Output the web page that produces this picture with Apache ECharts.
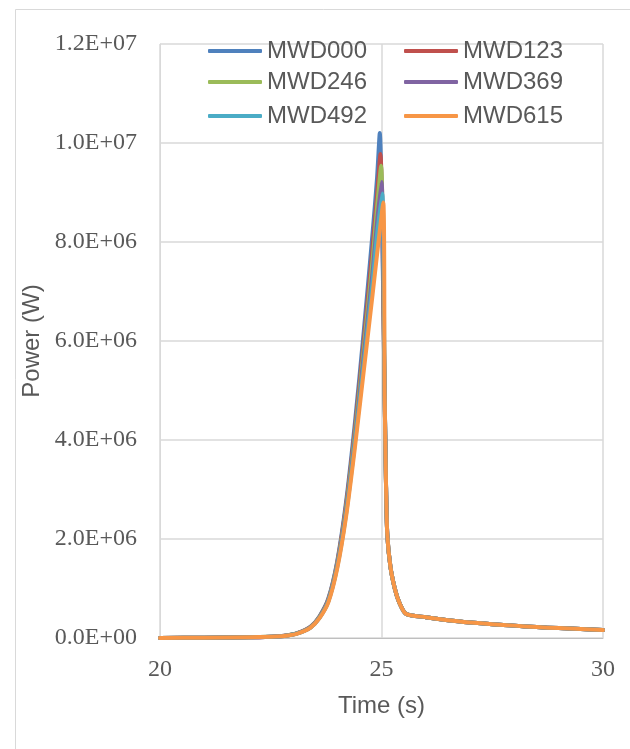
<!DOCTYPE html>
<html>
<head>
<meta charset="utf-8">
<script src="https://cdn.jsdelivr.net/npm/echarts@6/dist/echarts.min.js"></script>
<style>
  html, body { margin: 0; padding: 0; background: #fff; }
  #chart { width: 630px; height: 749px; }
</style>
</head>
<body>
<div id="chart"></div>
<script>
// series names + colours (Office theme)
const names = ['MWD000', 'MWD123', 'MWD246', 'MWD369', 'MWD492', 'MWD615'];
const colors = ['#4F81BD', '#C0504D', '#9BBB59', '#8064A2', '#4BACC6', '#F79646'];

// rising side, shared time grid (s) ; values in MW
const riseTime = [20, 21, 22, 22.5, 22.8, 23.1, 23.4, 23.6, 23.8, 24.0, 24.2, 24.4, 24.6, 24.8, 24.9];
const rise000 = [0.002, 0.005, 0.014, 0.027, 0.045, 0.10, 0.23, 0.44, 0.80, 1.55, 2.75, 4.35, 6.20, 8.20, 9.30];
const rise123 = [0.002, 0.005, 0.014, 0.027, 0.044, 0.098, 0.225, 0.43, 0.78, 1.52, 2.68, 4.22, 6.00, 7.90, 8.95];
const rise246 = [0.002, 0.005, 0.014, 0.026, 0.043, 0.096, 0.22, 0.42, 0.76, 1.49, 2.62, 4.12, 5.85, 7.65, 8.70];
const rise369 = [0.002, 0.005, 0.013, 0.026, 0.042, 0.094, 0.215, 0.41, 0.75, 1.46, 2.56, 4.02, 5.70, 7.40, 8.40];
const rise492 = [0.002, 0.005, 0.013, 0.025, 0.041, 0.092, 0.21, 0.405, 0.74, 1.43, 2.50, 3.95, 5.55, 7.20, 8.15];
const rise615 = [0.002, 0.005, 0.013, 0.025, 0.040, 0.090, 0.21, 0.40, 0.72, 1.40, 2.45, 3.85, 5.40, 6.95, 7.75];

// peaks
const peakTime = [24.96, 24.975, 24.99, 25.0, 25.015, 25.04];
const peakValue = [10.2, 9.78, 9.54, 9.21, 8.98, 8.80];

// falling side + tail, shared by all cases
const fallTime = [25.07, 25.1, 25.13, 25.2, 25.3, 25.4, 25.55, 26, 26.5, 27, 27.5, 28, 28.5, 29, 29.5, 30];
const fallValue = [5.0, 3.2, 2.1, 1.45, 1.0, 0.72, 0.49, 0.42, 0.36, 0.315, 0.28, 0.25, 0.22, 0.20, 0.18, 0.16];

const riseValues = [rise000, rise123, rise246, rise369, rise492, rise615];

function buildData(i) {
  const pts = [];
  riseTime.forEach((t, k) => pts.push([t, riseValues[i][k] * 1e6]));
  pts.push([peakTime[i], peakValue[i] * 1e6]);
  fallTime.forEach((t, k) => pts.push([t, fallValue[k] * 1e6]));
  return pts;
}

function sci(v) {
  if (v === 0) return '0.0E+00';
  const s = v.toExponential(1).split('e');
  const e = parseInt(s[1], 10);
  return s[0] + 'E' + (e < 0 ? '-' : '+') + String(Math.abs(e)).padStart(2, '0');
}

const chart = echarts.init(document.getElementById('chart'));

const legendRows = [[0, 1], [2, 3], [4, 5]];
const legendTops = [39, 70, 104];

const option = {
  animation: false,
  backgroundColor: '#fff',
  graphic: [{
    type: 'rect',
    shape: { x: 15.5, y: 9.5, width: 700, height: 800 },
    style: { fill: 'none', stroke: '#d9d9d9', lineWidth: 1 },
    silent: true
  }],
  legend: legendRows.map((row, r) => ({
    data: row.map(i => names[i]),
    left: 208,
    top: legendTops[r],
    padding: 0,
    itemGap: 37,
    itemWidth: 54,
    itemHeight: 4,
    icon: 'roundRect',
    textStyle: { fontFamily: 'Liberation Sans', fontSize: 24, color: '#595959', lineHeight: 24 }
  })),
  grid: { left: 160, right: 27, top: 44, bottom: 111 },
  xAxis: {
    type: 'value',
    min: 20, max: 30, interval: 5,
    name: 'Time (s)',
    nameLocation: 'middle',
    nameGap: 56,
    nameTextStyle: { fontFamily: 'Liberation Sans', fontSize: 24, color: '#595959' },
    axisLine: { show: true, lineStyle: { color: '#bfbfbf', width: 1 } },
    axisTick: { show: false },
    axisLabel: { margin: 20, fontFamily: 'Liberation Serif', fontSize: 24, color: '#595959' },
    splitLine: { show: true, lineStyle: { color: '#d9d9d9', width: 1.5 } }
  },
  yAxis: {
    type: 'value',
    min: 0, max: 1.2e7, interval: 2e6,
    name: 'Power (W)',
    nameLocation: 'middle',
    nameGap: 113,
    nameTextStyle: { fontFamily: 'Liberation Sans', fontSize: 24, color: '#595959' },
    axisLine: { show: true, lineStyle: { color: '#d9d9d9', width: 1 } },
    axisTick: { show: false },
    axisLabel: { margin: 23, fontFamily: 'Liberation Serif', fontSize: 24, color: '#595959', formatter: sci },
    splitLine: { show: true, lineStyle: { color: '#d9d9d9', width: 1.5 } }
  },
  series: names.map((n, i) => ({
    name: n,
    type: 'line',
    data: buildData(i),
    showSymbol: false,
    symbol: 'none',
    smooth: 0.25,
    color: colors[i],
    lineStyle: { width: 4, color: colors[i], cap: 'round', join: 'round' }
  }))
};

chart.setOption(option);
</script>
</body>
</html>
